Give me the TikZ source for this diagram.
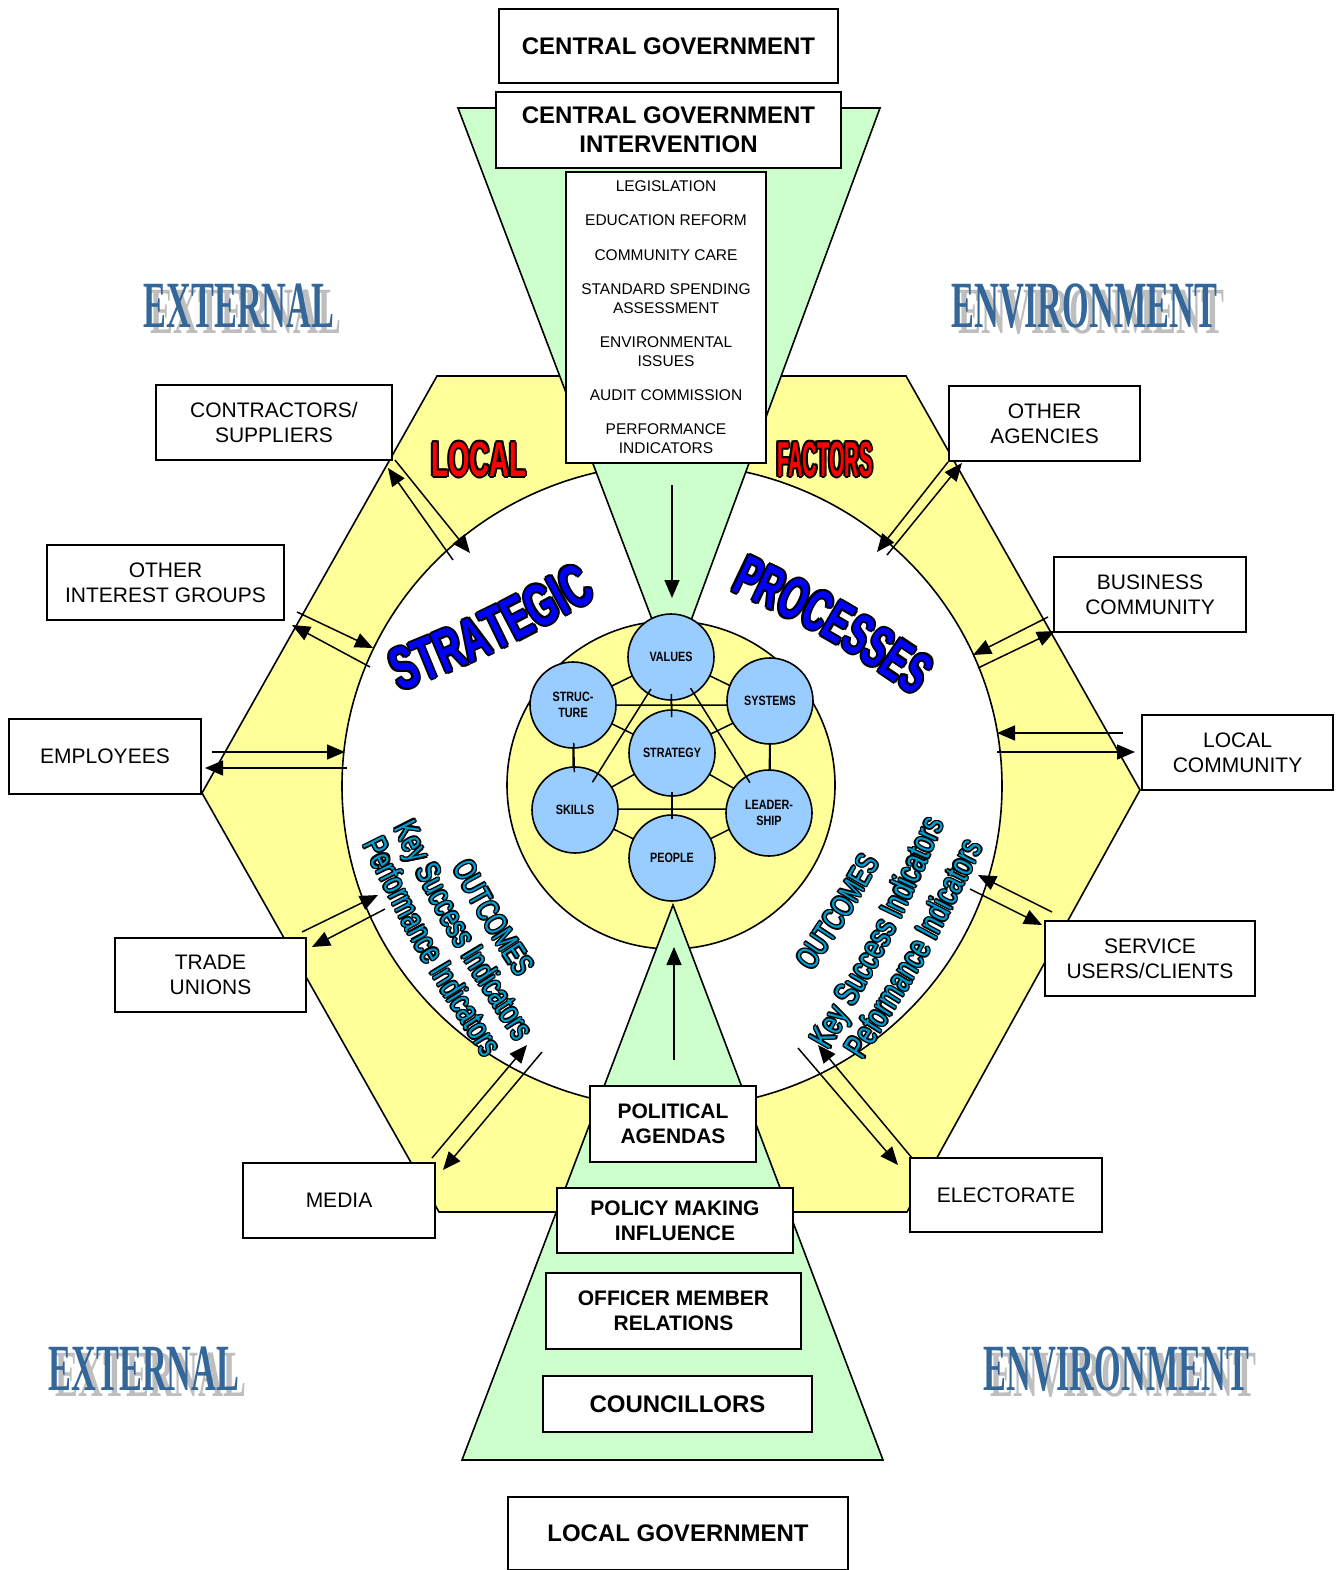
\documentclass[tikz,border=0pt]{standalone}
\usepackage{fontspec}
\setmainfont{Liberation Sans}
\newfontfamily\fArial{Liberation Sans}
\newfontfamily\fCir[FakeStretch=0.8]{Liberation Sans}
\newfontfamily\fOut[FakeStretch=0.72]{Liberation Sans}
\newfontfamily\fStr[FakeStretch=0.63]{Liberation Sans}
\newfontfamily\fPro[FakeStretch=0.59]{Liberation Sans}
\newfontfamily\fLoc[FakeStretch=0.56]{Liberation Sans}
\newfontfamily\fFac[FakeStretch=0.41]{Liberation Sans}
\newfontfamily\fExt[FakeStretch=0.52]{Liberation Serif}
\usetikzlibrary{arrows.meta,decorations.text,calc}
\definecolor{yel}{RGB}{255,255,153}
\definecolor{grn}{RGB}{204,255,204}
\definecolor{cblue}{RGB}{153,204,255}
\definecolor{wablue}{RGB}{51,102,153}
\definecolor{wagrey}{RGB}{190,190,190}
\definecolor{outcyan}{RGB}{0,160,210}
\definecolor{strblue}{RGB}{0,0,255}
\definecolor{locred}{RGB}{255,0,0}
\newcommand\sBox{\fArial\fontsize{21}{25}\selectfont}
\newcommand\sList{\fArial\fontsize{15.5}{19}\selectfont}
\newcommand\sBold{\fArial\bfseries\fontsize{21}{25}\selectfont}
\newcommand\sBig{\fArial\bfseries\fontsize{24}{29}\selectfont}
\newcommand\sCir{\fCir\bfseries\fontsize{13.5}{16}\selectfont}
\newcommand\sOutA{\fOut\fontsize{33}{33}\selectfont}
\newcommand\sOutB{\fOut\fontsize{31}{31}\selectfont}
\newcommand\sOutC{\fOut\fontsize{34}{34}\selectfont}
\newcommand\sStr{\fStr\bfseries\fontsize{60}{60}\selectfont}
\newcommand\sPro{\fPro\bfseries\fontsize{58}{58}\selectfont}
\newcommand\sLoc{\fLoc\bfseries\fontsize{49}{49}\selectfont}
\newcommand\sFac{\fFac\bfseries\fontsize{49}{49}\selectfont}
\newcommand\sExt{\fExt\bfseries\fontsize{66}{66}\selectfont}
\def\offsA{2/0,-2/0,0/2,0/-2,1.4/1.4,-1.4/1.4,1.4/-1.4,-1.4/-1.4}
\def\offsB{1.5/0,-1.5/0,0/1.5,0/-1.5,1.05/1.05,-1.05/1.05,1.05/-1.05,-1.05/-1.05}
% one decorated text: #1 format, #2 text, #3 colour, #4 dx, #5 dy, #6 A, #7 C, #8 B
\newcommand\dpath[8]{%
  \path[decorate, decoration={text along path, text={|#1|#2}, text align=center, text color=#3}]
    ($(#6)!-40pt!(#7)+(#4,#5)$) -- ($(#6)+(#4,#5)$) .. controls ($(#7)+(#4,#5)$) .. ($(#8)+(#4,#5)$) -- ($(#8)!-40pt!(#7)+(#4,#5)$);}
% outlined decorated text: #1 format, #2 text, #3 colour, #4 offset list, #5 A, #6 C, #7 B
\newcommand\dtext[7]{%
  \foreach \ox/\oy in #4 {\dpath{#1}{#2}{black}{\ox}{\oy}{#5}{#6}{#7}}%
  \dpath{#1}{#2}{#3}{0}{0}{#5}{#6}{#7}}
% #1 name, #2 position, #3 font, #4 text, #5 colour, #6 offset list
\newcommand\otext[6]{%
  \foreach \ox/\oy in #6 {%
    \node[anchor=base, inner sep=0pt, text=black, font=#3, transform canvas={xshift=\ox pt, yshift=\oy pt}] at #2 {#4};}%
  \node[anchor=base, inner sep=0pt, text=#5, font=#3] (#1) at #2 {#4};}
\begin{document}
\begin{tikzpicture}[x=1pt,y=-1pt,
  box/.style={draw, line width=1.6pt, fill=white, inner sep=0pt, align=center},
  sc/.style={circle, draw, line width=1.6pt, fill=cblue, minimum size=86pt, inner sep=0pt, align=center, font=\sCir},
  net/.style={line width=1.5pt},
  arr/.style={-{Triangle[length=18pt,width=15pt]}, line width=1.5pt},
  bgshape/.style={line width=1.6pt}]
\useasboundingbox (0,0) rectangle (1343,1570);
\fill[white] (0,0) rectangle (1343,1570);

% background shapes
\filldraw[bgshape, fill=yel] (202,793) -- (437,376) -- (906,376) -- (1140,790) -- (907,1212) -- (439,1212) -- cycle;
\filldraw[bgshape, fill=white] (672,786) ellipse [x radius=330, y radius=322];
\filldraw[bgshape, fill=yel] (671,785) circle [radius=164];
\filldraw[bgshape, fill=grn] (458,108) -- (880,108) -- (672,672) -- cycle;
\filldraw[bgshape, fill=grn] (673,905) -- (883,1460) -- (462,1460) -- cycle;

% inner network
\coordinate (pV) at (671,657);
\coordinate (pSt) at (573,705);
\coordinate (pSy) at (770,705);
\coordinate (pSg) at (672,753);
\coordinate (pSk) at (573,809);
\coordinate (pL) at (770,809);
\coordinate (pP) at (672,858);
\draw[net] (pV)--(pSt) (pV)--(pSy) (pSt)--(pSy) (pSt)--(pSk) (pSy)--(pL) (pSk)--(pL)
  (pSk)--(pP) (pL)--(pP) (pV)--(pSg) (pSg)--(pP) (pSg)--(pSt) (pSg)--(pSy) (pSg)--(pSk) (pSg)--(pL);
\node[sc] (V) at (pV) {VALUES};
\node[sc] (St) at (573,705) {STRUC-\\TURE};
\node[sc] (Sy) at (770,701) {SYSTEMS};
\node[sc] (Sg) at (pSg) {STRATEGY};
\node[sc] (Sk) at (575,810) {SKILLS};
\node[sc] (L) at (769,813) {LEADER-\\SHIP};
\node[sc] (P) at (pP) {PEOPLE};
\draw[net, shorten <=-7pt, shorten >=-8pt] (V) -- (Sg);
\draw[net, shorten <=-5pt, shorten >=-5pt] (Sg) -- (P);
\draw[net, shorten <=-6pt, shorten >=-6pt] (St) -- (Sk);
\draw[net, shorten <=-2pt, shorten >=-2pt] (Sy) -- (L);
\draw[net, shorten <=-6pt, shorten >=-11pt] (V) -- (Sk);
\draw[net, shorten <=-7pt, shorten >=-8pt] (V) -- (L);

% boxes
\node[box, font=\sBig, minimum width=339, minimum height=74] (cg) at (668.5,46) {CENTRAL GOVERNMENT};
\node[box, font=\sBig, minimum width=345, minimum height=76] (cgi) at (668.5,130) {CENTRAL GOVERNMENT\\INTERVENTION};
\node[box, font=\sList, minimum width=200, minimum height=291] (list) at (666,317.5)
  {LEGISLATION\\[15.2pt]EDUCATION REFORM\\[15.2pt]COMMUNITY CARE\\[15.2pt]STANDARD SPENDING\\ASSESSMENT\\[15.2pt]ENVIRONMENTAL\\ISSUES\\[15.2pt]AUDIT COMMISSION\\[15.2pt]PERFORMANCE\\INDICATORS};
\node[box, font=\sBox, minimum width=236, minimum height=75] (contr) at (274,422.5) {CONTRACTORS/\\SUPPLIERS};
\node[box, font=\sBox, minimum width=237, minimum height=75] (othint) at (165.5,582.5) {OTHER\\INTEREST GROUPS};
\node[box, font=\sBox, minimum width=192, minimum height=75] (empl) at (105,756.5) {EMPLOYEES};
\node[box, font=\sBox, minimum width=191, minimum height=74] (trade) at (210.5,975) {TRADE\\UNIONS};
\node[box, font=\sBox, minimum width=192, minimum height=75] (media) at (339,1200.5) {MEDIA};
\node[box, font=\sBox, minimum width=191, minimum height=75] (othag) at (1044.5,423.5) {OTHER\\AGENCIES};
\node[box, font=\sBox, minimum width=192, minimum height=75] (busi) at (1150,594.5) {BUSINESS\\COMMUNITY};
\node[box, font=\sBox, minimum width=191, minimum height=75] (lcom) at (1237.5,752.5) {LOCAL\\COMMUNITY};
\node[box, font=\sBox, minimum width=210, minimum height=75] (serv) at (1150,958.5) {SERVICE\\USERS/CLIENTS};
\node[box, font=\sBox, minimum width=192, minimum height=74] (elec) at (1006,1195) {ELECTORATE};
\node[box, font=\sBold, minimum width=166, minimum height=76] (polit) at (673,1124) {POLITICAL\\AGENDAS};
\node[box, font=\sBold, minimum width=236, minimum height=65] (policy) at (675,1220.5) {POLICY MAKING\\INFLUENCE};
\node[box, font=\sBold, minimum width=255, minimum height=76] (officer) at (673.5,1311) {OFFICER MEMBER\\RELATIONS};
\node[box, font=\sBig, minimum width=269, minimum height=56] (counc) at (677.5,1404) {COUNCILLORS};
\node[box, font=\sBig, minimum width=340, minimum height=73] (lgov) at (678,1533.5) {LOCAL GOVERNMENT};

% arrows
\coordinate (a1s) at (453,560); \coordinate (a1t) at (388,468);
\coordinate (a2s) at (395,460); \coordinate (a2t) at (470,553);
\coordinate (b1s) at (370,667); \coordinate (b1t) at (292,625);
\coordinate (b2s) at (297,612); \coordinate (b2t) at (373,648);
\coordinate (c1s) at (212,752); \coordinate (c1t) at (345,752);
\coordinate (c2s) at (347,768); \coordinate (c2t) at (205,768);
\coordinate (d1s) at (302,932); \coordinate (d1t) at (378,895);
\coordinate (d2s) at (385,909); \coordinate (d2t) at (312,947);
\coordinate (e1s) at (432,1158); \coordinate (e1t) at (527,1045);
\coordinate (e2s) at (542,1052); \coordinate (e2t) at (443,1170);
\coordinate (f1s) at (887,555); \coordinate (f1t) at (962,463);
\coordinate (f2s) at (948,462); \coordinate (f2t) at (877,552);
\coordinate (g1s) at (1048,617); \coordinate (g1t) at (973,655);
\coordinate (g2s) at (978,668); \coordinate (g2t) at (1055,631);
\coordinate (h1s) at (1123,733); \coordinate (h1t) at (997,733);
\coordinate (h2s) at (997,752); \coordinate (h2t) at (1135,752);
\coordinate (i1s) at (1052,912); \coordinate (i1t) at (978,875);
\coordinate (i2s) at (970,889); \coordinate (i2t) at (1042,925);
\coordinate (j1s) at (912,1158); \coordinate (j1t) at (818,1045);
\coordinate (j2s) at (798,1048); \coordinate (j2t) at (898,1165);
\coordinate (k1s) at (672,485); \coordinate (k1t) at (672,598);
\coordinate (k2s) at (674,1060); \coordinate (k2t) at (674,947);
\foreach \n in {a1,a2,b1,b2,c1,c2,d1,d2,e1,e2,f1,f2,g1,g2,h1,h2,i1,i2,j1,j2,k1,k2}
  \draw[arr] (\n s) -- (\n t);

% WordArt titles
\node[anchor=base, inner sep=0pt, font=\sExt, text=wagrey] (ext1s) at (246,333) {EXTERNAL};
\node[anchor=base, inner sep=0pt, font=\sExt, text=wablue] (ext1) at (239,327) {EXTERNAL};
\node[anchor=base, inner sep=0pt, font=\sExt, text=wagrey] (env1s) at (1091.5,333) {ENVIRONMENT};
\node[anchor=base, inner sep=0pt, font=\sExt, text=wablue] (env1) at (1084.5,327) {ENVIRONMENT};
\node[anchor=base, inner sep=0pt, font=\sExt, text=wagrey] (ext2s) at (151,1396) {EXTERNAL};
\node[anchor=base, inner sep=0pt, font=\sExt, text=wablue] (ext2) at (144,1390) {EXTERNAL};
\node[anchor=base, inner sep=0pt, font=\sExt, text=wagrey] (env2s) at (1123.5,1396) {ENVIRONMENT};
\node[anchor=base, inner sep=0pt, font=\sExt, text=wablue] (env2) at (1116.5,1390) {ENVIRONMENT};

\otext{loc}{(479,476)}{\sLoc}{LOCAL}{locred}{\offsA}
\otext{fac}{(825,476)}{\sFac}{FACTORS}{locred}{\offsA}

% curved texts
\coordinate (sA) at (400,692); \coordinate (sC) at (500.4,651); \coordinate (sB) at (597,598);
\coordinate (pA) at (730,590); \coordinate (pC) at (826.5,636); \coordinate (pB) at (915,696);
\dtext{\sStr}{STRATEGIC}{strblue}{\offsA}{sA}{sC}{sB}
\dtext{\sPro}{PROCESSES}{strblue}{\offsA}{pA}{pC}{pB}

\coordinate (lpA) at (362,843); \coordinate (lpC) at (417.7,954.8); \coordinate (lpB) at (485,1060);
\coordinate (lkA) at (392,825); \coordinate (lkC) at (449.2,938.3); \coordinate (lkB) at (518,1045);
\coordinate (loA) at (452,867); \coordinate (loC) at (482.7,923.9); \coordinate (loB) at (518,978);
\coordinate (roA) at (812,972); \coordinate (roC) at (848.3,918.4); \coordinate (roB) at (880,862);
\coordinate (rkA) at (828,1052); \coordinate (rkC) at (892.4,940); \coordinate (rkB) at (945,822);
\coordinate (rpA) at (863,1060); \coordinate (rpC) at (928.8,956.8); \coordinate (rpB) at (983,847);
\dtext{\sOutA}{Performance Indicators}{outcyan}{\offsB}{lpA}{lpC}{lpB}
\dtext{\sOutA}{Key Success Indicators}{outcyan}{\offsB}{lkA}{lkC}{lkB}
\dtext{\sOutB}{OUTCOMES}{outcyan}{\offsB}{loA}{loC}{loB}
\dtext{\sOutB}{OUTCOMES}{outcyan}{\offsB}{roA}{roC}{roB}
\dtext{\sOutC}{Key Success Indicators}{outcyan}{\offsB}{rkA}{rkC}{rkB}
\dtext{\sOutC}{Peformance Indicators}{outcyan}{\offsB}{rpA}{rpC}{rpB}
\end{tikzpicture}
\end{document}
